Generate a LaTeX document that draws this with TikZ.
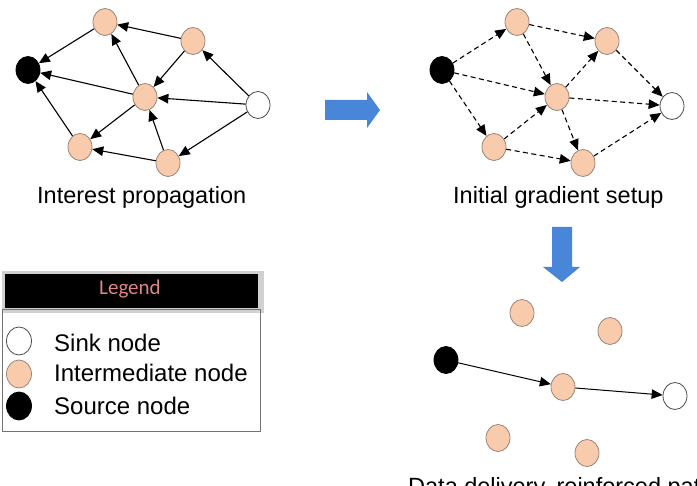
\documentclass[tikz,border=0pt]{standalone}
\usepackage{fontspec}
\setmainfont{Liberation Sans}
\newfontfamily\legendfont{Carlito}
\usetikzlibrary{shapes.geometric,arrows.meta}
\definecolor{peach}{HTML}{F8CBAD}
\definecolor{peachline}{HTML}{9C8478}
\definecolor{flowblue}{HTML}{4A86D8}
\definecolor{legendred}{HTML}{E08585}
\begin{document}
\begin{tikzpicture}[x=1pt,y=-1pt,
  dot/.style={ellipse,minimum width=24pt,minimum height=27pt,inner sep=0pt,line width=0.8pt},
  mid/.style={dot,fill=peach,draw=peachline},
  src/.style={dot,fill=black,draw=black},
  snk/.style={dot,fill=white,draw=black!70},
  link/.style={line width=1.1pt,-{Triangle[length=11pt,width=9.5pt]}},
  probe/.style={link,dash pattern=on 5pt off 3.5pt},
  caption/.style={font=\fontsize{23.5}{28}\selectfont,anchor=base west,inner sep=0pt},
  keytext/.style={font=\fontsize{24}{28}\selectfont,anchor=base west,inner sep=0pt},
  bigarrow/.style={fill=flowblue,draw=none}]
\useasboundingbox (0,0) rectangle (697,486);
\clip (0,0) rectangle (697,486);

% ---------- interest propagation ----------
\node[src] (ls) at (28,70) {};
\node[mid] (la) at (105,22) {};
\node[mid] (lb) at (193,41) {};
\node[mid] (lc) at (145,97) {};
\node[snk] (lk) at (258,105) {};
\node[mid] (ld) at (80,147) {};
\node[mid] (le) at (168,163) {};
\draw[link] (la) -- (ls);
\draw[link] (lb) -- (la);
\draw[link] (lb) -- (lc);
\draw[link] (lc) -- (la);
\draw[link] (lc) -- (ls);
\draw[link] (lk) -- (lb);
\draw[link] (lk) -- (lc);
\draw[link] (lk) -- (le);
\draw[link] (lc) -- (ld);
\draw[link] (le) -- (lc);
\draw[link] (le) -- (ld);
\draw[link] (ld) -- (ls);
\node[caption] (lcap) at (37,204) {Interest propagation};

% ---------- initial gradient setup ----------
\node[src] (rs) at (442,70) {};
\node[mid] (ra) at (517,22) {};
\node[mid] (rb) at (607,41) {};
\node[mid] (rc) at (557,97) {};
\node[snk] (rk) at (672,106) {};
\node[mid] (rd) at (494,147) {};
\node[mid] (re) at (583,163) {};
\draw[probe] (rs) -- (ra);
\draw[probe] (rs) -- (rc);
\draw[probe] (rs) -- (rd);
\draw[probe] (ra) -- (rb);
\draw[probe] (ra) -- (rc);
\draw[probe] (rc) -- (rb);
\draw[probe] (rb) -- (rk);
\draw[probe] (rc) -- (rk);
\draw[probe] (rc) -- (re);
\draw[probe] (rd) -- (rc);
\draw[probe] (rd) -- (re);
\draw[probe] (re) -- (rk);
\node[caption] (rcap) at (453,204) {Initial gradient setup};

% ---------- block arrows between stages ----------
\fill[bigarrow] (325,100) -- (367,100) -- (367,92) -- (380,110) -- (367,128)
  -- (367,120) -- (325,120) -- cycle;
\fill[bigarrow] (552,227) -- (572,227) -- (572,267) -- (580,267) -- (562,282)
  -- (543,267) -- (552,267) -- cycle;

% ---------- reinforced path ----------
\node[mid] (ba) at (522,313) {};
\node[mid] (bb) at (610,331) {};
\node[src] (bs) at (446,360) {};
\node[mid] (bc) at (563,387) {};
\node[snk] (bk) at (675,396) {};
\node[mid] (bd) at (498,438) {};
\node[mid] (be) at (587,453) {};
\draw[link,line width=1pt] (bs) -- (bc);
\draw[link,line width=1pt] (bc) -- (bk);
\node[caption] (bcap) at (408,495) {Data delivery, reinforced path};

% ---------- legend ----------
\fill[black!18] (2,271) rectangle (264,313);
\fill[black] (5,274) rectangle (258,308);
\node[font=\legendfont\fontsize{21}{24}\selectfont,text=legendred,inner sep=0pt]
  (ltitle) at (130,289) {Legend};
\draw[black!55,line width=1pt] (2,310) rectangle (260,432);
\node[snk,minimum width=25pt,minimum height=28pt] (ksink) at (19,341) {};
\node[mid,minimum width=25pt,minimum height=28pt] (kmid) at (19,374) {};
\node[src,minimum width=25pt,minimum height=28pt] (ksrc) at (19,406) {};
\node[keytext] (tsink) at (54,352) {Sink node};
\node[keytext] (tmid) at (54,382) {Intermediate node};
\node[keytext] (tsrc) at (54,415) {Source node};
\end{tikzpicture}
\end{document}
